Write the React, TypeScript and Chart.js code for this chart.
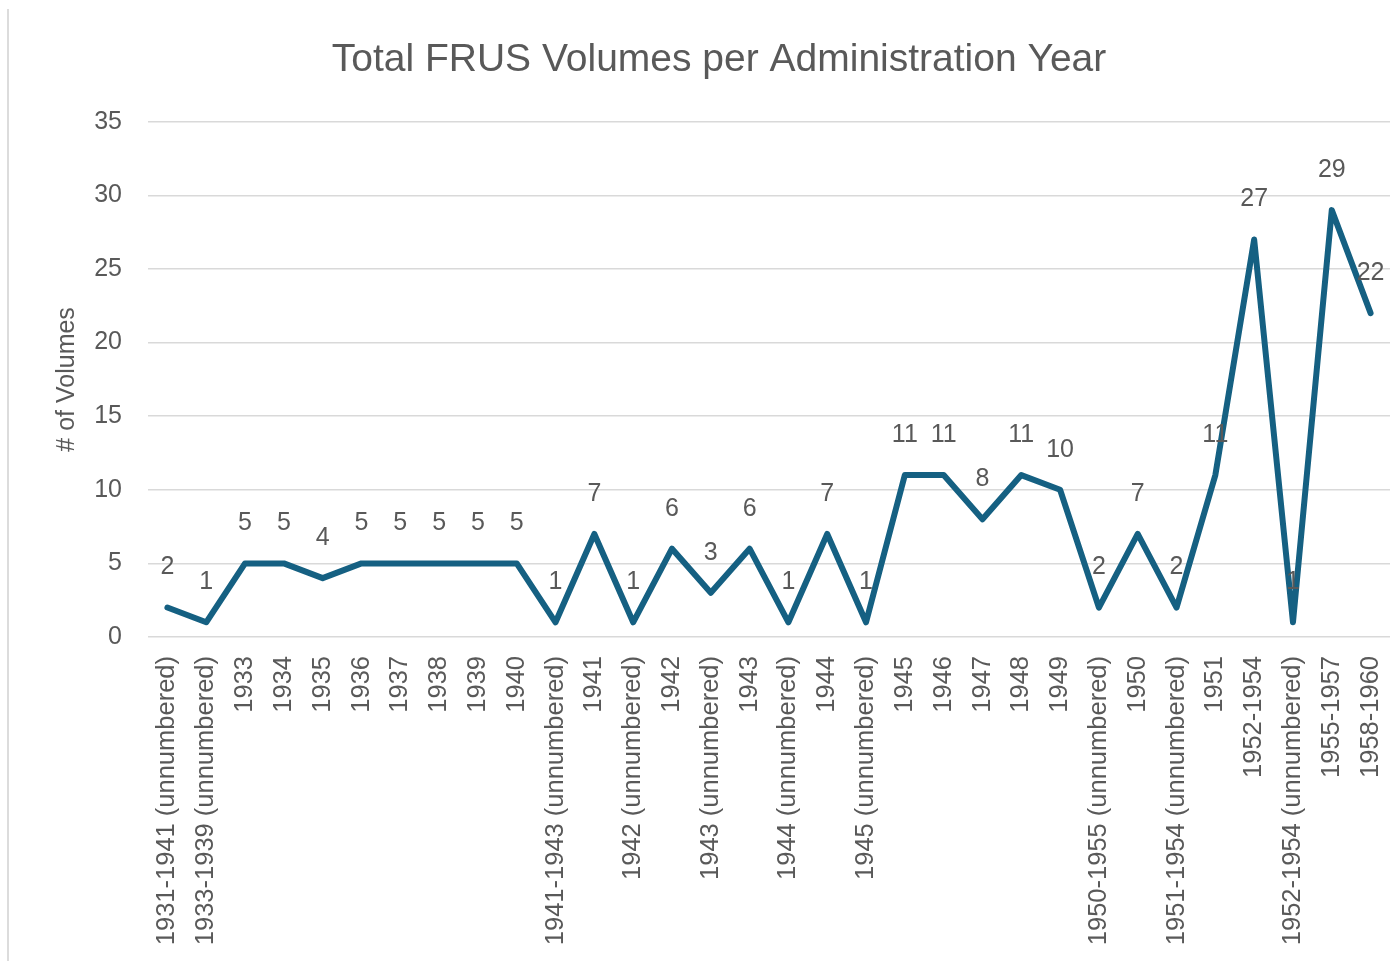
import React, { useEffect, useRef } from "react";
import { Chart, registerables } from "chart.js";

Chart.register(...registerables);

const categories: string[] = [
  "1931-1941 (unnumbered)",
  "1933-1939 (unnumbered)",
  "1933",
  "1934",
  "1935",
  "1936",
  "1937",
  "1938",
  "1939",
  "1940",
  "1941-1943 (unnumbered)",
  "1941",
  "1942 (unnumbered)",
  "1942",
  "1943 (unnumbered)",
  "1943",
  "1944 (unnumbered)",
  "1944",
  "1945 (unnumbered)",
  "1945",
  "1946",
  "1947",
  "1948",
  "1949",
  "1950-1955 (unnumbered)",
  "1950",
  "1951-1954 (unnumbered)",
  "1951",
  "1952-1954",
  "1952-1954 (unnumbered)",
  "1955-1957",
  "1958-1960",
];

const volumes: number[] = [
  2, 1, 5, 5, 4, 5, 5, 5, 5, 5, 1, 7, 1, 6, 3, 6, 1, 7, 1, 11, 11, 8, 11, 10, 2, 7, 2, 11, 27, 1, 29, 22,
];

const yTicks: number[] = [0, 5, 10, 15, 20, 25, 30, 35];

const TEXT = "#595959";
const FONT = "'Liberation Sans', Arial, sans-serif";

const dataLabelPlugin = {
  id: "dataLabels",
  afterDatasetsDraw(chart: any) {
    const ctx = chart.ctx;
    const meta = chart.getDatasetMeta(0);
    ctx.save();
    ctx.font = `25px ${FONT}`;
    ctx.fillStyle = TEXT;
    ctx.textAlign = "center";
    ctx.textBaseline = "middle";
    meta.data.forEach((pt: any, i: number) => {
      ctx.fillText(String(volumes[i]), pt.x, pt.y - 40);
    });
    ctx.restore();
  },
};

export default function App() {
  const canvasRef = useRef<HTMLCanvasElement | null>(null);

  useEffect(() => {
    if (!canvasRef.current) return;
    const chart = new Chart(canvasRef.current, {
      type: "line",
      data: {
        labels: categories,
        datasets: [
          {
            label: "# of Volumes",
            data: volumes,
            borderColor: "#156082",
            backgroundColor: "#156082",
            borderWidth: 6,
            pointRadius: 0,
            tension: 0,
            borderJoinStyle: "round",
            borderCapStyle: "round",
          },
        ],
      },
      options: {
        animation: false,
        responsive: false,
        maintainAspectRatio: false,
        layout: { padding: { left: 48, right: 7, top: 27, bottom: 10 } },
        plugins: {
          legend: { display: false },
          tooltip: { enabled: false },
          title: {
            display: true,
            text: "Total FRUS Volumes per Administration Year",
            color: TEXT,
            font: { family: FONT, size: 39, weight: "normal" },
            padding: { top: 10, bottom: 38 },
          },
        },
        scales: {
          x: {
            offset: true,
            grid: { display: false, drawTicks: false },
            border: { display: false },
            ticks: {
              autoSkip: false,
              maxRotation: 90,
              minRotation: 90,
              color: TEXT,
              padding: 19,
              font: { family: FONT, size: 25.5 },
            },
            afterFit(scale: any) {
              scale.height = 314;
              scale.paddingLeft = 0;
              scale.paddingRight = 0;
            },
          },
          y: {
            min: 0,
            max: 35,
            afterBuildTicks(scale: any) {
              scale.ticks = yTicks.map((v) => ({ value: v }));
            },
            grid: { color: "#d9d9d9", lineWidth: 1.5, drawTicks: false },
            border: { display: false },
            ticks: {
              color: TEXT,
              padding: 26,
              font: { family: FONT, size: 25 },
            },
            title: {
              display: true,
              text: "# of Volumes",
              color: TEXT,
              font: { family: FONT, size: 25 },
              padding: { top: 4, bottom: 4 },
            },
            afterFit(scale: any) {
              scale.width = 100;
            },
          },
        },
      },
      plugins: [dataLabelPlugin],
    });
    return () => chart.destroy();
  }, []);

  return (
    <div style={{ position: "fixed", left: 0, top: 0, width: 1397, height: 961, background: "#fff" }}>
      <div style={{ position: "absolute", left: 7, top: 9, width: 2, height: 952, background: "#dcdcdc" }} />
      <canvas ref={canvasRef} width={1397} height={961} style={{ position: "absolute", left: 0, top: 0 }} />
    </div>
  );
}
